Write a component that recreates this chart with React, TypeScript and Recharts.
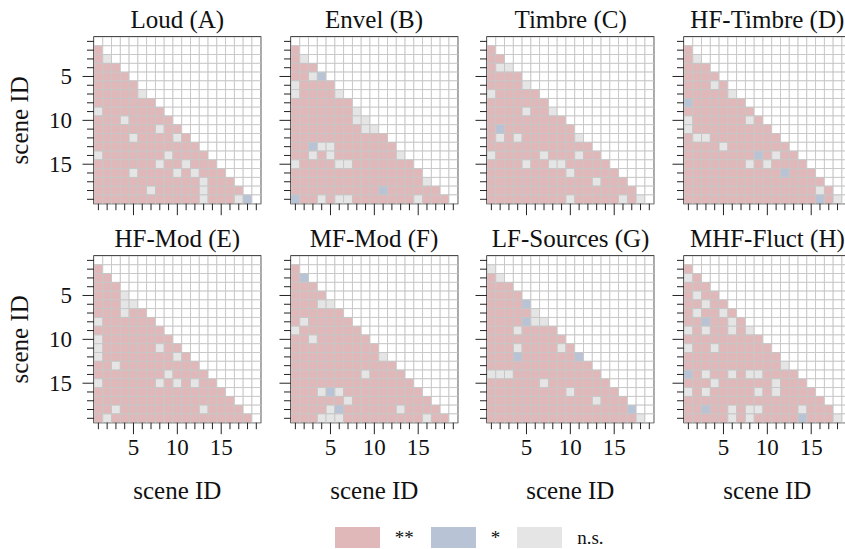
import React from 'react'
import { ScatterChart, Scatter, XAxis, YAxis, ReferenceArea } from 'recharts'

// scene ids on both axes, and the ones that get a number
const sceneIds = [1, 2, 3, 4, 5, 6, 7, 8, 9, 10, 11, 12, 13, 14, 15, 16, 17, 18, 19]
const labeledTicks = [5, 10, 15]

const panelTitles = [
  'Loud (A)', 'Envel (B)', 'Timbre (C)', 'HF-Timbre (D)',
  'HF-Mod (E)', 'MF-Mod (F)', 'LF-Sources (G)', 'MHF-Fluct (H)',
]

// legend: p = **, b = *, g = n.s.
const levelKeys = ['p', 'b', 'g']
const levelLabels = ['**', '*', 'n.s.']

// one string per scene 2..19, char i = comparison with scene i+1
const loudA = [
  'p', 'pg', 'ppp', 'pppp', 'ppppp', 'pppppg', 'ppppppp', 'gppppppp', 'pppgppppp',
  'pppppppgpp', 'ppppgppppgp', 'pppppppppppp', 'gpppppppgpppp', 'pppppppgppgppp',
  'ppppgppppgpgppp', 'ppppppppppppgppp', 'ppppppgpppppgpppp', 'ppppppppppppgpppgb',
]
const envelB = [
  'p', 'pg', 'ppp', 'ppgb', 'gpppp', 'gppppg', 'ppppppp', 'pppppppg', 'pppppppgg',
  'ppppppppgg', 'ppppppppppp', 'ppbggppppppp', 'ppgpgpppppppg', 'gppppggppppppp',
  'ppppppppppppppp', 'pppppppppppppppg', 'ppppppppppbpppppp', 'bppgpggpppppppgppp',
]
const timbreC = [
  'p', 'pp', 'pgg', 'pppp', 'ppppg', 'gppppp', 'ppppppp', 'ppppgppg', 'ppppppppp',
  'pbpppppppp', 'pgpgppppppg', 'pppppppppppp', 'gpppppgpppgpp', 'ppppgppggppppp',
  'pppppppppgppppp', 'ppppppppppppgppp', 'ppppppppppppppppp', 'pppppppppgpppppgpg',
]
const hfTimbreD = [
  'p', 'pg', 'ppp', 'pppp', 'pppgp', 'pppppg', 'bpppppp', 'pppppppp', 'gppppppgp',
  'gppppppppp', 'pggpppppppp', 'ppppgppppppp', 'ppppppppbpgpp', 'pppppppgpgpppp',
  'pppppppppppbppp', 'pppppppppppppppp', 'pppppppppppppppgp', 'pppppppppppppppbpg',
]
const hfModE = [
  'p', 'pp', 'ppp', 'pppg', 'pppgg', 'pppgpp', 'gpppppp', 'pppppppp', 'gpppppppp',
  'gppppppgpp', 'gppppppppgp', 'ppgppppppppp', 'ppppppppgpppp', 'gppppppgpgpgpp',
  'ppppppppppppppp', 'pppppppppppppppp', 'ppgpppppppppgpppp', 'pgpppppppppppppppp',
]
const mfModF = [
  'p', 'pb', 'ppp', 'pppp', 'pppgg', 'pppppp', 'pgppppp', 'gppppppp', 'ppgpppppp',
  'pppppppppp', 'ppppppppppg', 'pppppppppppp', 'ppppppppgpppp', 'pppppppppppppp',
  'pppgbgppppppppp', 'ppppppgppppppppp', 'ppppgbppppppgpppp', 'pppgggpppppppppgpp',
]
const lfSourcesG = [
  'g', 'pg', 'ppp', 'pppp', 'ppppb', 'pppppg', 'ppppbgg', 'pppgpppp', 'ppppppppp',
  'pppgppppgp', 'pppbppppppb', 'pppppppppppp', 'gggpppppppppp', 'ppppppgppppppp',
  'pppppppppgppppp', 'ppppppppppppgppp', 'ppppppppppppppppb', 'pppppppppppppppppg',
]
const mhfFluctH = [
  'p', 'gp', 'ppp', 'pgpp', 'ppgpp', 'pgppgp', 'ppbppgp', 'gpgppgpg', 'ppppppppp',
  'gppgpppppp', 'ppppppppppp', 'pppppppppppg', 'bpgppgpggpppp', 'pppgppppppgppp',
  'gpgpppppgpgpppp', 'pppppppppppppppp', 'ppbppgpggppppgppp', 'pppppgpgpppppbpppg',
]

const panelRows = [loudA, envelB, timbreC, hfTimbreD, hfModE, mfModF, lfSourcesG, mhfFluctH]

const COLORS: Record<string, string> = {
  p: '#e1b8b9',
  b: '#b9c3d6',
  g: '#e5e5e5',
  w: '#ffffff',
}
const GRID = '#c6c6c6'
const FONT = '"Liberation Serif", "Times New Roman", serif'

const PLOT = 166.7
const CELL = PLOT / sceneIds.length
const ML = 90
const MT = 40
const MR = 10
const MB = 80
const COL_X = [94, 290.7, 487.3, 684]
const ROW_Y = [36.5, 256.3]

function buildCells(rows: string[]) {
  const cells: { x: number; y: number; k: string }[] = []
  for (const r of sceneIds) {
    for (const c of sceneIds) {
      cells.push({ x: c, y: r, k: r > c ? rows[r - 2][c - 1] : 'w' })
    }
  }
  return cells
}

const renderCell = (props: any) => {
  const { cx, cy, payload } = props
  return (
    <rect
      x={cx - CELL / 2}
      y={cy - CELL / 2}
      width={CELL}
      height={CELL}
      fill={COLORS[payload.k]}
      stroke={GRID}
      strokeWidth={0.9}
    />
  )
}

function XTick(props: any) {
  const { x, payload, showLabel } = props
  const v = payload.value
  const major = labeledTicks.includes(v)
  const bottom = MT + PLOT
  return (
    <g>
      <line x1={x} x2={x} y1={bottom} y2={bottom + (major ? 11.5 : 6.5)} stroke="#222" strokeWidth={1} />
      {showLabel && major && (
        <text x={x} y={bottom + 32} textAnchor="middle" fontFamily={FONT} fontSize={23} fill="#111">
          {v}
        </text>
      )}
    </g>
  )
}

function YTick(props: any) {
  const { y, payload, showLabel } = props
  const v = payload.value
  const major = labeledTicks.includes(v)
  return (
    <g>
      <line x1={ML - (major ? 11.5 : 7)} x2={ML} y1={y} y2={y} stroke="#222" strokeWidth={1} />
      {showLabel && major && (
        <text x={ML - 22} y={y + 7.5} textAnchor="end" fontFamily={FONT} fontSize={23} fill="#111">
          {v}
        </text>
      )}
    </g>
  )
}

function Panel({ index }: { index: number }) {
  const col = index % 4
  const row = Math.floor(index / 4)
  const leftCol = col === 0
  const bottomRow = row === 1
  const data = buildCells(panelRows[index])

  return (
    <div style={{ position: 'absolute', left: COL_X[col] - ML, top: ROW_Y[row] - MT }}>
      <ScatterChart
        width={ML + PLOT + MR}
        height={MT + PLOT + MB}
        margin={{ top: MT, right: MR, bottom: 0, left: 0 }}
      >
        <XAxis
          type="number"
          dataKey="x"
          domain={[0.5, 19.5]}
          allowDataOverflow
          ticks={sceneIds}
          interval={0}
          height={MB}
          axisLine={false}
          tickLine={false}
          tick={(p: any) => <XTick {...p} showLabel={bottomRow} />}
          label={
            bottomRow
              ? () => (
                  <text x={ML + PLOT / 2} y={MT + PLOT + 76} textAnchor="middle" fontFamily={FONT} fontSize={25} fill="#111">
                    scene ID
                  </text>
                )
              : undefined
          }
        />
        <YAxis
          type="number"
          dataKey="y"
          domain={[0.5, 19.5]}
          allowDataOverflow
          reversed
          ticks={sceneIds}
          interval={0}
          width={ML}
          axisLine={false}
          tickLine={false}
          tick={(p: any) => <YTick {...p} showLabel={leftCol} />}
          label={
            leftCol
              ? () => (
                  <text
                    x={24}
                    y={MT + PLOT / 2}
                    transform={`rotate(-90, 24, ${MT + PLOT / 2})`}
                    textAnchor="middle"
                    fontFamily={FONT}
                    fontSize={25}
                    fill="#111"
                  >
                    scene ID
                  </text>
                )
              : undefined
          }
        />
        <Scatter data={data} isAnimationActive={false} shape={renderCell} />
        <ReferenceArea x1={0.5} x2={19.5} y1={0.5} y2={19.5} fill="none" fillOpacity={0} stroke="#111" strokeWidth={1.3} ifOverflow="visible" />
      </ScatterChart>
      <div
        style={{
          position: 'absolute',
          left: ML - 60,
          width: PLOT + 120,
          top: 10,
          lineHeight: '25px',
          fontSize: 25,
          fontFamily: FONT,
          color: '#111',
          textAlign: 'center',
          whiteSpace: 'nowrap',
          pointerEvents: 'none',
        }}
      >
        {panelTitles[index]}
      </div>
    </div>
  )
}

export default function App() {
  return (
    <div
      style={{
        position: 'absolute',
        left: 0,
        top: 0,
        width: 845,
        height: 549,
        overflow: 'hidden',
        background: '#ffffff',
      }}
    >
      {panelTitles.map((_, i) => (
        <Panel key={i} index={i} />
      ))}

      {/* shared legend */}
      <div style={{ position: 'absolute', left: 334.7, top: 527.3, display: 'flex', alignItems: 'center' }}>
        {levelKeys.map((k, i) => (
          <React.Fragment key={k}>
            <span style={{ display: 'block', width: 45, height: 21, background: COLORS[k], marginRight: 15 }} />
            <span style={{ fontFamily: FONT, fontSize: 19, lineHeight: '21px', color: '#111', marginRight: 17 }}>
              {levelLabels[i]}
            </span>
          </React.Fragment>
        ))}
      </div>
    </div>
  )
}
